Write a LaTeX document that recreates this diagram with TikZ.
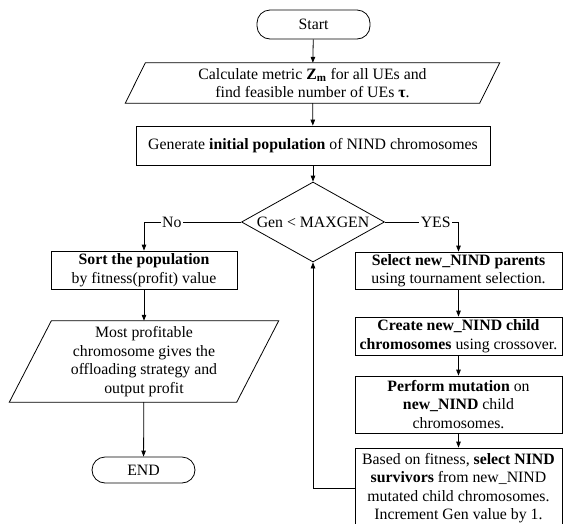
\documentclass[tikz,border=0pt]{standalone}
\usepackage{fontspec}
\setmainfont{Liberation Serif}
\usetikzlibrary{arrows.meta,shapes.geometric,calc}

\begin{document}
\begin{tikzpicture}[x=1pt,y=-1pt,
  every node/.style={font=\fontsize{15.8}{18.5}\selectfont, inner sep=0pt, align=center},
  proc/.style={draw, rectangle, line width=0.8pt},
  term/.style={draw, rectangle, rounded corners=13pt, line width=0.8pt},
  decision/.style={draw, diamond, aspect=1.79, line width=0.8pt},
  iobody/.style={rectangle},
  flow/.style={draw, line width=0.8pt, -{Triangle[length=6pt,width=4.5pt]}},
  lbl/.style={fill=white, inner sep=1.5pt}]

\useasboundingbox (0,0) rectangle (563,523);
\clip (0,0) rectangle (563,523);

% main column
\node[term, minimum width=113pt, minimum height=29pt] (start) at (313.5,24.5) {Start};
\node[iobody, minimum width=354pt, minimum height=40pt] (metric) at (312.5,83)
  {Calculate metric \textbf{Z}\textsubscript{\textbf{m}} for all UEs and\\find feasible number of UEs \textbf{τ}.};
\draw[line width=0.8pt] ($(metric.north west)+(10,0)$) -- ($(metric.north east)+(10,0)$)
  -- ($(metric.south east)+(-10,0)$) -- ($(metric.south west)+(-10,0)$) -- cycle;
\node[proc, minimum width=354pt, minimum height=39pt] (init) at (313,145.5)
  {Generate \textbf{initial population} of NIND chromosomes};
\node[decision, minimum width=143pt, minimum height=80pt] (gen) at (313,222) {Gen < MAXGEN};

% termination branch
\node[proc, minimum width=186pt, minimum height=38pt] (sort) at (144,270)
  {\textbf{Sort the population}\\by fitness(profit) value};
\node[iobody, minimum width=227pt, minimum height=81pt] (best) at (144,361.5)
  {Most profitable\\chromosome gives the\\offloading strategy and\\output profit};
\draw[line width=0.8pt] ($(best.north west)+(21,0)$) -- ($(best.north east)+(21,0)$)
  -- ($(best.south east)+(-21,0)$) -- ($(best.south west)+(-21,0)$) -- cycle;
\node[term, minimum width=103pt, minimum height=26pt] (end) at (143.5,470) {END};

% generation loop
\node[proc, minimum width=207pt, minimum height=37pt] (select) at (458.5,270.5)
  {\textbf{Select new\_NIND parents}\\using tournament selection.};
\node[proc, minimum width=207pt, minimum height=38pt] (cross) at (458.5,336)
  {\textbf{Create new\_NIND child}\\\textbf{chromosomes} using crossover.};
\node[proc, minimum width=207pt, minimum height=57pt] (mutate) at (458.5,404.5)
  {\textbf{Perform mutation} on\\\textbf{new\_NIND} child\\chromosomes.};
\node[proc, minimum width=207pt, minimum height=80pt] (survive) at (458.5,488)
  {Based on fitness, \textbf{select NIND}\\\textbf{survivors} from new\_NIND\\mutated child chromosomes.\\Increment Gen value by 1.};

% connectors
\draw[flow] (start) -- (metric);
\draw[flow] (metric) -- (init);
\draw[flow] (init) -- (gen);
\draw[flow] (gen.west) -| node[lbl, pos=0.357] {No} (sort.north);
\draw[flow] (gen.east) -| node[lbl, pos=0.345] {YES} (select.north);
\draw[flow] (sort) -- (best);
\draw[flow] (best) -- (end);
\draw[flow] (select) -- (cross);
\draw[flow] (cross) -- (mutate);
\draw[flow] (mutate) -- (survive);
\draw[flow] (survive.west) -| (gen.south);
\end{tikzpicture}
\end{document}
